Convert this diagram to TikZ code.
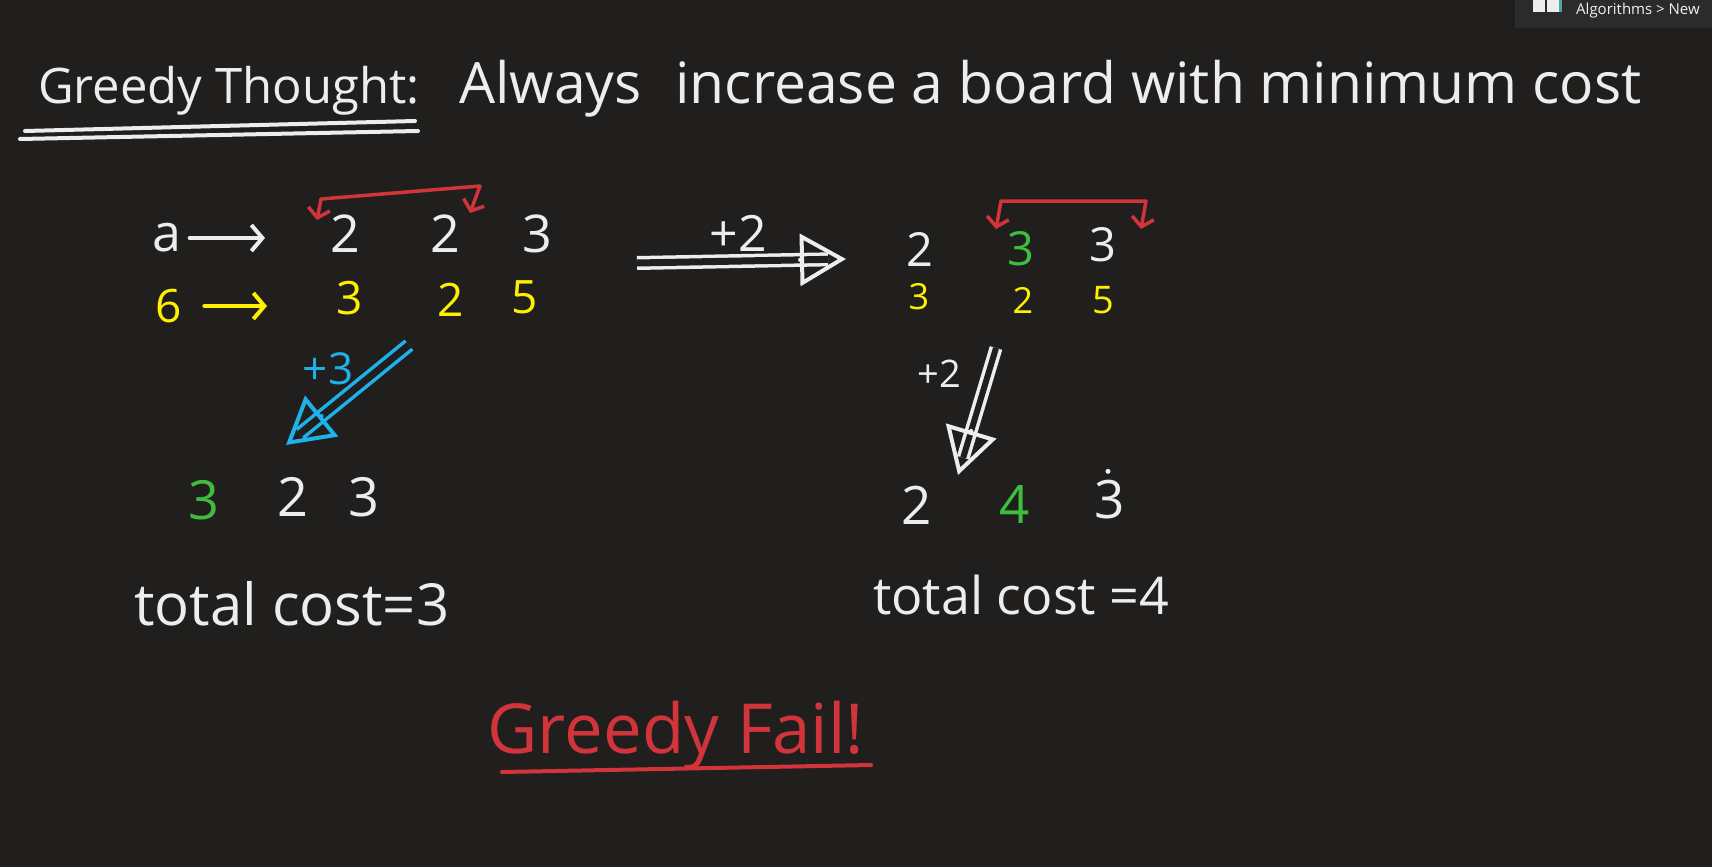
\documentclass[tikz,border=0pt]{standalone}
\usepackage{fontspec}
\setmainfont{Open Sans}
\setsansfont{Open Sans}
\usepackage{xcolor}
\usetikzlibrary{arrows.meta,positioning,calc}
\definecolor{boardbg}{HTML}{201F1E}
\definecolor{tabbg}{HTML}{2B2B2B}
\definecolor{chalk}{HTML}{EDEDED}
\definecolor{chalkyellow}{HTML}{FFF000}
\definecolor{chalkgreen}{HTML}{3DBE3D}
\definecolor{chalkred}{HTML}{D1343B}
\definecolor{chalkblue}{HTML}{1EB1EA}
\tikzset{
  boardline/.style={line width=4pt, line cap=round, line join=round},
  boardarr/.style={boardline, -{Straight Barb[length=11pt, width=26pt]}},
  boardtxt/.style={inner sep=0pt, text=chalk},
}

\begin{document}
\begin{tikzpicture}[
  x=1pt, y=-1pt,
  font=\fontsize{52}{56}\selectfont,
  num/.style={boardtxt},
  price/.style={boardtxt, text=chalkyellow, font=\fontsize{46}{50}\selectfont},
  fatarr/.style={line width=3.5pt, line cap=butt, double=boardbg, double distance=7pt, shorten >=18pt},
  fathead/.style={boardline, -{Triangle[open, length=46pt, width=52pt, line width=4pt]}},
  bracket/.style={boardline, draw=chalkred, line width=3.5pt,
    {Straight Barb[length=9pt, width=22pt]}-{Straight Barb[length=9pt, width=22pt]}},
]
  \useasboundingbox (0,0) rectangle (1712,867);
  \clip (0,0) rectangle (1712,867);
  \fill[boardbg] (0,0) rectangle (1712,867);

  % window tab, top right
  \fill[tabbg] (1515,0) rectangle (1712,28);
  \fill[chalk] (1533,0) rectangle (1559,12);
  \draw[tabbg, line width=1.5pt] (1546,0) -- (1546,12);
  \fill[teal!70] (1559,0) rectangle (1562,12);
  \node[boardtxt, text=chalk!85, font=\fontsize{15}{17}\selectfont, anchor=base west] (tab) at (1576,15) {Algorithms > New};

  % heading
  \node[boardtxt, font=\fontsize{49}{53}\selectfont, anchor=base west] (ttl) at (38,103) {Greedy Thought:};
  \draw[boardline, draw=chalk] (25,131) -- (415,121);
  \draw[boardline, draw=chalk] (20,139) -- (418,131);
  \node[boardtxt, font=\fontsize{57}{61}\selectfont, anchor=base west] (tagline) at (459,103) {Always\,\, increase a board with minimum cost};

  % left board
  \node[num, font=\fontsize{52}{56}\selectfont] (la) at (167,238) {a};
  \coordinate (laend) at (265,238);
  \draw[boardarr, draw=chalk] (la.east) ++(8,0) -- (laend);
  \node[num] (l1) at (345,234) {2};
  \node[num] (l2) at (445,234) {2};
  \node[num] (l3) at (537,234) {3};
  \node[price] (lc) at (169,306) {6};
  \coordinate (lcend) at (267,306);
  \draw[boardarr, draw=chalkyellow] (lc.east) ++(22,0) -- (lcend);
  \node[price] (y1) at (350,298) {3};
  \node[price] (y2) at (451,300) {2};
  \node[price] (y3) at (525,297) {5};
  \coordinate (lb1) at (317,220);
  \coordinate (lb2) at (321,199);
  \coordinate (lb3) at (480,186);
  \coordinate (lb4) at (470,213);
  \draw[bracket] (lb1) -- (lb2) -- (lb3) -- (lb4);

  \coordinate (lstart) at (409,345);
  \coordinate (ltip) at (286,445);
  \draw[fatarr, draw=chalkblue] (lstart) -- (ltip);
  \draw[fathead, draw=chalkblue] ($(ltip)!46pt!(lstart)$) -- (ltip);
  \node[boardtxt, text=chalkblue, font=\fontsize{44}{48}\selectfont] (llab) at (328,369) {+3};

  \node[num, text=chalkgreen, font=\fontsize{54}{58}\selectfont] (b1) at (204,500) {3};
  \node[num, font=\fontsize{54}{58}\selectfont] (b2) at (293,497) {2};
  \node[num, font=\fontsize{54}{58}\selectfont] (b3) at (364,497) {3};
  \node[boardtxt, font=\fontsize{58}{62}\selectfont, anchor=base west] (ltot) at (134,625) {total cost=3};

  % middle arrow
  \coordinate (mstart) at (637,263);
  \coordinate (mtip) at (846,259);
  \draw[fatarr, draw=chalk] (mstart) -- (mtip);
  \draw[fathead, draw=chalk] ($(mtip)!46pt!(mstart)$) -- (mtip);
  \node[boardtxt, font=\fontsize{50}{54}\selectfont] (mlab) at (738,233) {+2};

  % right board
  \node[num, font=\fontsize{47}{50}\selectfont] (r1) at (920,249) {2};
  \node[num, text=chalkgreen, font=\fontsize{47}{50}\selectfont] (r2) at (1021,249) {3};
  \node[num, font=\fontsize{47}{50}\selectfont] (r3) at (1103,245) {3};
  \node[price, font=\fontsize{36}{40}\selectfont] (ry1) at (919,297) {3};
  \node[price, font=\fontsize{36}{40}\selectfont] (ry2) at (1023,300) {2};
  \node[price, font=\fontsize{38}{42}\selectfont] (ry3) at (1103,300) {5};
  \coordinate (rb1) at (996,229);
  \coordinate (rb2) at (1001,201);
  \coordinate (rb3) at (1146,201);
  \coordinate (rb4) at (1141,229);
  \draw[bracket] (rb1) -- (rb2) -- (rb3) -- (rb4);

  \coordinate (rstart) at (996,348);
  \coordinate (rtip) at (958,475);
  \draw[fatarr, draw=chalk, double distance=6pt] (rstart) -- (rtip);
  \draw[fathead, draw=chalk] ($(rtip)!46pt!(rstart)$) -- (rtip);
  \node[boardtxt, font=\fontsize{38}{42}\selectfont] (rlab) at (939,374) {+2};

  \node[num, font=\fontsize{53}{56}\selectfont] (rb1n) at (917,505) {2};
  \node[num, text=chalkgreen, font=\fontsize{53}{56}\selectfont] (rb2n) at (1015,504) {4};
  \node[num, font=\fontsize{53}{56}\selectfont] (rb3n) at (1110,500) {3};
  \fill[chalk] ($(rb3n.north)+(-2,-9)$) circle (2.5pt);
  \node[boardtxt, font=\fontsize{52}{56}\selectfont, anchor=base west] (rtot) at (873,614) {total cost =4};

  % verdict
  \node[boardtxt, text=chalkred, font=\fontsize{69}{73}\selectfont, anchor=base] (fail) at (676,753) {Greedy Fail!};
  \draw[boardline, draw=chalkred] (502,772) -- (871,765);
\end{tikzpicture}
\end{document}
